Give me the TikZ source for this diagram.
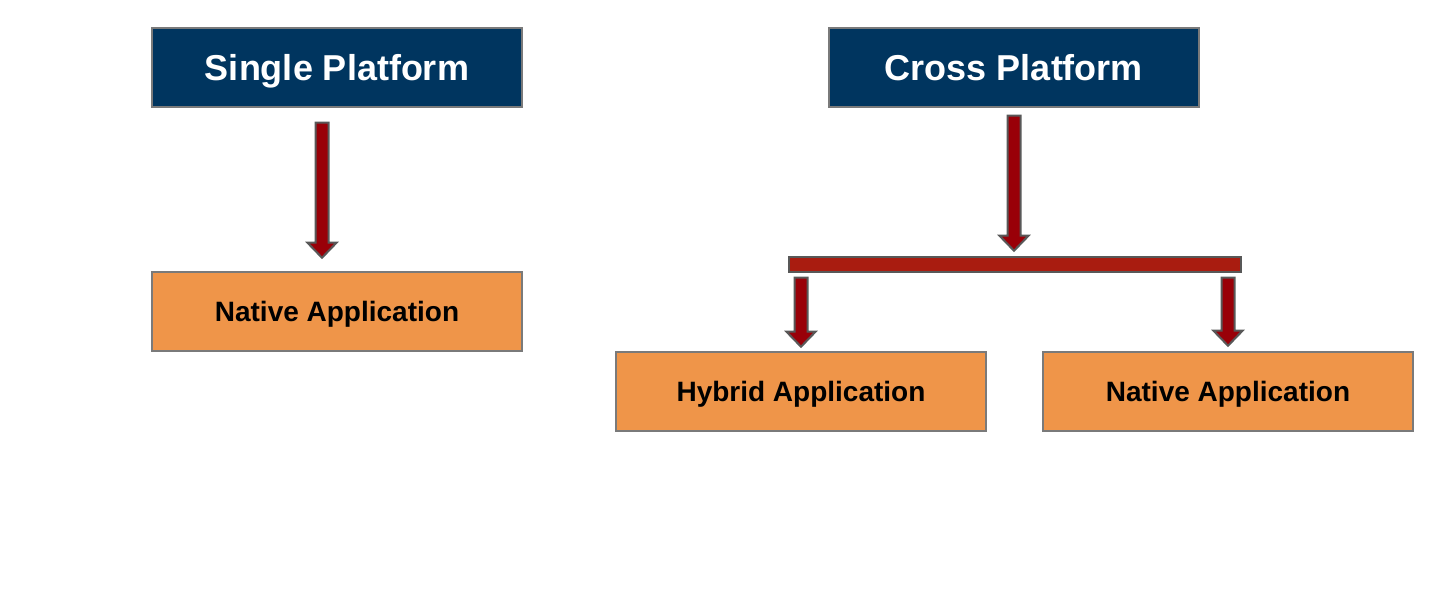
\documentclass[tikz,border=0pt]{standalone}
\usepackage{fontspec}
\setmainfont{Liberation Sans}
\usetikzlibrary{calc}
\definecolor{navy}{HTML}{00355F}
\definecolor{boxorange}{HTML}{EF9549}
\definecolor{boxedge}{HTML}{7A7A7A}
\definecolor{arrowred}{HTML}{990008}
\definecolor{barred}{HTML}{A91C10}
\definecolor{arrowedge}{HTML}{585858}
\tikzset{
  headbox/.style={draw=boxedge, line width=1.5pt, fill=navy, text=white,
    minimum width=370pt, minimum height=79pt, inner sep=0pt,
    text height=25.8pt, text depth=0pt,
    font=\fontsize{36}{40}\selectfont\bfseries},
  appbox/.style={draw=boxedge, line width=1.5pt, fill=boxorange, text=black,
    minimum width=370pt, minimum height=79pt, inner sep=0pt,
    text height=20pt, text depth=0pt,
    font=\fontsize{28}{32}\selectfont\bfseries},
  arrowshape/.style={draw=arrowedge, line width=2pt, fill=arrowred, line join=miter},
  pics/blockarrow/.style={code={
    \draw[arrowshape] (-6.5,0) -- (-6.5,#1-15) -- (-14.5,#1-15) -- (0,#1)
      -- (14.5,#1-15) -- (6.5,#1-15) -- (6.5,0) -- cycle;
  }}
}
\begin{document}
\begin{tikzpicture}[x=1pt,y=-1pt]
\fill[white] (0,0) rectangle (1451,593);
\useasboundingbox (0,0) rectangle (1451,593);

\node[headbox] (sp) at (337,67.5) {Single Platform};
\node[headbox] (cp) at (1014,67.5) {Cross Platform};
\node[appbox] (na1) at (337,311.5) {Native Application};
\node[appbox] (hy) at (801,391.5) {Hybrid Application};
\node[appbox] (na2) at (1228,391.5) {Native Application};
\node[draw=arrowedge, line width=1.5pt, fill=barred, minimum width=452pt,
  minimum height=15pt, inner sep=0pt] (bar) at (1015,264.5) {};

\pic at ($(sp.south)+(-15,15)$) {blockarrow=135};
\pic at ($(cp.south)+(0,8)$) {blockarrow=135};
\pic at ($(bar.south -| hy.north)+(0,5)$) {blockarrow=69};
\pic at ($(bar.south -| na2.north)+(0,5)$) {blockarrow=68};
\end{tikzpicture}
\end{document}
